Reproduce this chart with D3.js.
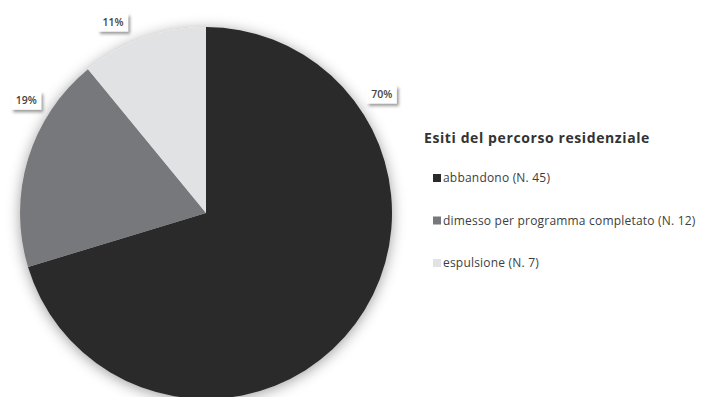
<!DOCTYPE html>
<html>
<head>
<meta charset="utf-8">
<script src="https://cdn.jsdelivr.net/npm/d3@7"></script>
<style>
  html, body { margin: 0; padding: 0; background: #fff; }
  svg { display: block; font-family: "Open Sans", "Lato", sans-serif; }
</style>
</head>
<body>
<svg id="chart" width="701" height="397"></svg>
<script>
// Outcomes of the residential programme
const categories = ["abbandono", "dimesso per programma completato", "espulsione"];
const counts = [45, 12, 7];
const percentLabels = ["70%", "19%", "11%"];
const legendTitle = "Esiti del percorso residenziale";
const sliceColors = ["#2b2a2b", "#77787b", "#e1e2e4"];

// Layout
const W = 701, H = 397;
const cx = 206, cy = 213, radius = 186;
const labelRadius = 212;
// label direction (degrees clockwise from 12 o'clock), best-fit positions outside the pie
const labelAngles = [56, 302, 334];

const svg = d3.select("#chart");
const defs = svg.append("defs");

const pieShadow = defs.append("filter").attr("id", "pieShadow")
  .attr("x", "-20%").attr("y", "-20%").attr("width", "140%").attr("height", "140%");
pieShadow.append("feDropShadow")
  .attr("dx", 0).attr("dy", 2).attr("stdDeviation", 7)
  .attr("flood-color", "#000").attr("flood-opacity", 0.38);

const boxShadow = defs.append("filter").attr("id", "boxShadow")
  .attr("x", "-40%").attr("y", "-40%").attr("width", "180%").attr("height", "200%");
boxShadow.append("feDropShadow")
  .attr("dx", 2).attr("dy", 2.5).attr("stdDeviation", 1.8)
  .attr("flood-color", "#000").attr("flood-opacity", 0.4);

const pie = d3.pie().sort(null).value(d => d);
const arcs = pie(counts);
const arc = d3.arc().innerRadius(0).outerRadius(radius);

const g = svg.append("g").attr("transform", `translate(${cx},${cy})`);

g.append("g").attr("filter", "url(#pieShadow)")
  .selectAll("path")
  .data(arcs)
  .join("path")
  .attr("d", arc)
  .attr("fill", (d, i) => sliceColors[i]);

// Percentage labels in small shadowed boxes
const labels = g.append("g").selectAll("g")
  .data(arcs)
  .join("g")
  .attr("transform", (d, i) => {
    const a = labelAngles[i] * Math.PI / 180;
    return `translate(${labelRadius * Math.sin(a)},${-labelRadius * Math.cos(a)})`;
  });

labels.append("rect")
  .attr("x", -15).attr("y", -9).attr("width", 30).attr("height", 18)
  .attr("fill", "#fff")
  .attr("filter", "url(#boxShadow)");

labels.append("text")
  .attr("text-anchor", "middle")
  .attr("dy", "0.36em")
  .attr("font-size", 10.5)
  .attr("font-weight", 600)
  .attr("fill", "#444")
  .text((d, i) => percentLabels[i]);

// Legend
const legend = svg.append("g").attr("transform", "translate(424,143)");
legend.append("text")
  .attr("x", 0).attr("y", 0)
  .attr("font-size", 14)
  .attr("letter-spacing", 0.6)
  .attr("font-weight", "bold")
  .attr("fill", "#333")
  .text(legendTitle);

const rowY = d3.scalePoint().domain(categories).range([39, 124]);

const items = legend.selectAll("g.item")
  .data(categories)
  .join("g")
  .attr("class", "item")
  .attr("transform", d => `translate(9,${rowY(d)})`);

items.append("rect")
  .attr("x", 0).attr("y", -8).attr("width", 8).attr("height", 8)
  .attr("fill", (d, i) => sliceColors[i]);

items.append("text")
  .attr("x", 10).attr("y", 0)
  .attr("font-size", 12)
  .attr("letter-spacing", 0.2)
  .attr("fill", "#3d3d3d")
  .text((d, i) => `${d} (N. ${counts[i]})`);
</script>
</body>
</html>
